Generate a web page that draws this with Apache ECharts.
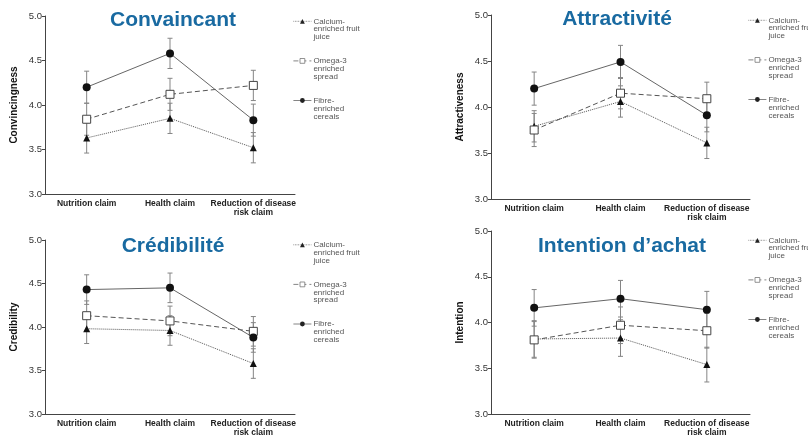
<!DOCTYPE html>
<html><head><meta charset="utf-8">
<script src="https://cdn.jsdelivr.net/npm/echarts@6/dist/echarts.min.js"></script>
<style>html,body{margin:0;padding:0;background:#fff}#c{width:808px;height:437px}</style>
</head><body><div id="c"></div>
<script>
// Claim types on the x axis
const categories = ['Nutrition claim', 'Health claim', 'Reduction of disease\nrisk claim'];
const seriesNames = ['Calcium-enriched fruit juice', 'Omega-3 enriched spread', 'Fibre-enriched cereals'];
const legendLabels = ['Calcium-\nenriched fruit\njuice', 'Omega-3\nenriched\nspread', 'Fibre-\nenriched\ncereals'];
const panelTitles = ['Convaincant', 'Attractivité', 'Crédibilité', 'Intention d’achat'];
const axisNames = ['Convincingness', 'Attractiveness', 'Credibility', 'Intention'];
const yTicks = [3.0, 3.5, 4.0, 4.5, 5.0];

// Mean ratings per product: [calcium juice, omega-3 spread, fibre cereals]
const convincingness = [[3.63, 3.85, 3.52], [3.84, 4.12, 4.22], [4.20, 4.58, 3.83]];
const convincingnessErr = [[0.17, 0.17, 0.17], [0.18, 0.18, 0.17], [0.18, 0.17, 0.18]];
const attractiveness = [[3.79, 4.06, 3.61], [3.75, 4.15, 4.09], [4.20, 4.49, 3.91]];
const attractivenessErr = [[0.17, 0.17, 0.17], [0.18, 0.17, 0.18], [0.18, 0.18, 0.18]];
const credibility = [[3.98, 3.96, 3.58], [4.13, 4.07, 3.95], [4.43, 4.45, 3.88]];
const credibilityErr = [[0.17, 0.17, 0.17], [0.17, 0.17, 0.17], [0.17, 0.17, 0.17]];
const intention = [[3.82, 3.83, 3.54], [3.81, 3.97, 3.91], [4.16, 4.26, 4.14]];
const intentionErr = [[0.2, 0.2, 0.19], [0.2, 0.2, 0.19], [0.2, 0.2, 0.2]];

const panelMeans = [convincingness, attractiveness, credibility, intention];
const panelErrs = [convincingnessErr, attractivenessErr, credibilityErr, intentionErr];

// Panel placement
const grids = [
  { left: 45, top: 16, width: 250, height: 178 },
  { left: 491, top: 15, width: 259, height: 184 },
  { left: 45, top: 240, width: 250, height: 179 },
  { left: 491, top: 231, width: 259, height: 185 }
];
const titlePos = [[173, 10], [617, 9], [173, 236], [622, 236]];
const legendPos = [[293, 1.5], [748, 0.5], [293, 225], [748, 220.5]];

const FONT = 'Liberation Sans, Arial, sans-serif';
const lineStyles = [
  { type: 'dotted', color: '#555', width: 1 },
  { type: [5, 3], color: '#555', width: 1 },
  { type: 'solid', color: '#666', width: 1 }
];
const symbols = ['triangle', 'rect', 'circle'];
const symbolSizes = [7, 8, 8];
const itemStyles = [
  { color: '#111' },
  { color: '#fff', borderColor: '#444', borderWidth: 1 },
  { color: '#111' }
];

function errorSeries(means, errs, gi) {
  return {
    type: 'custom', xAxisIndex: gi, yAxisIndex: gi, z: 1, silent: true,
    data: means.map((m, i) => [i, m - errs[i], m + errs[i]]),
    encode: { x: 0, y: [1, 2] },
    renderItem(params, api) {
      const lo = api.coord([api.value(0), api.value(1)]);
      const hi = api.coord([api.value(0), api.value(2)]);
      const hw = 2.5;
      const style = { stroke: '#858585', lineWidth: 1 };
      return {
        type: 'group', children: [
          { type: 'line', shape: { x1: lo[0], y1: lo[1], x2: hi[0], y2: hi[1] }, style },
          { type: 'line', shape: { x1: lo[0] - hw, y1: lo[1], x2: lo[0] + hw, y2: lo[1] }, style },
          { type: 'line', shape: { x1: hi[0] - hw, y1: hi[1], x2: hi[0] + hw, y2: hi[1] }, style }
        ]
      };
    }
  };
}

const series = [];
panelMeans.forEach((means, gi) => {
  means.forEach((vals, si) => series.push(errorSeries(vals, panelErrs[gi][si], gi)));
  means.forEach((vals, si) => series.push({
    type: 'line', name: seriesNames[si], xAxisIndex: gi, yAxisIndex: gi, z: 3,
    data: vals, symbol: symbols[si], symbolSize: symbolSizes[si],
    lineStyle: lineStyles[si], itemStyle: itemStyles[si], silent: true, animation: false
  }));
});

const legendItemStyles = [
  { color: '#222' },
  { color: '#fff', borderColor: '#777', borderWidth: 0.8 },
  { color: '#222' }
];

const option = {
  animation: false,
  backgroundColor: '#fff',
  textStyle: { fontFamily: FONT },
  title: panelTitles.map((t, i) => ({
    text: t, left: titlePos[i][0], top: titlePos[i][1], textAlign: 'center', padding: 0,
    textStyle: { color: '#196aa1', fontSize: 21, fontWeight: 'bold', fontFamily: FONT }
  })),
  legend: legendPos.map(p => ({
    orient: 'vertical', left: p[0], top: p[1], padding: 0, itemGap: 0,
    itemWidth: 18, itemHeight: 6, selectedMode: false,
    data: seriesNames.map((n, i) => ({ name: n, itemStyle: legendItemStyles[i], lineStyle: { color: '#666', width: 0.8 } })),
    formatter: name => '\n\n' + legendLabels[seriesNames.indexOf(name)],
    textStyle: { fontSize: 8, lineHeight: 7.9, color: '#555', fontFamily: FONT, padding: [0, 0, 0, -3] }
  })),
  grid: grids,
  xAxis: grids.map((g, i) => ({
    type: 'category', gridIndex: i, data: categories, boundaryGap: true,
    axisLine: { lineStyle: { color: '#444' } },
    axisTick: { length: 3, lineStyle: { color: '#444' } },
    axisLabel: { interval: 0, fontSize: 8.5, fontWeight: 'bold', color: '#222', margin: 5, lineHeight: 9, fontFamily: FONT }
  })),
  yAxis: grids.map((g, i) => ({
    type: 'value', gridIndex: i, min: yTicks[0], max: yTicks[yTicks.length - 1], interval: 0.5,
    name: axisNames[i], nameLocation: 'middle', nameGap: 26,
    nameTextStyle: { fontSize: 10, fontWeight: 'bold', color: '#111', fontFamily: FONT },
    axisLine: { show: true, lineStyle: { color: '#444' } },
    axisTick: { show: true, length: 3, lineStyle: { color: '#444' } },
    splitLine: { show: false },
    axisLabel: { formatter: v => v.toFixed(1), fontSize: 9.5, color: '#333', margin: 3, fontFamily: FONT }
  })),
  series
};

const chart = echarts.init(document.getElementById('c'), null, { renderer: 'canvas' });
chart.setOption(option);
</script>
</body></html>
